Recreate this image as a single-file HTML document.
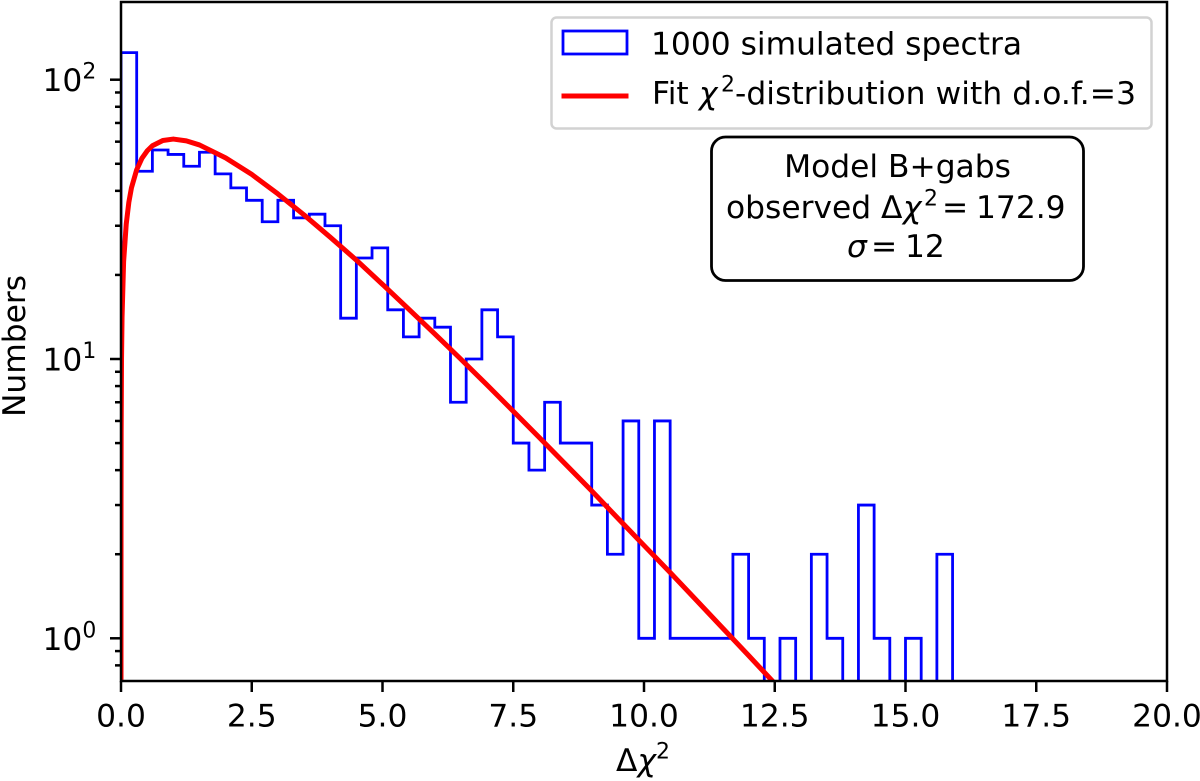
<!DOCTYPE html>
<html>
<head>
<meta charset="utf-8">
<title>Delta chi-squared histogram</title>
<style>
html,body{margin:0;padding:0;background:#fff;width:1200px;height:781px;overflow:hidden}
svg{display:block}
text{font-family:"DejaVu Sans","Liberation Sans",sans-serif;fill:#000}
.i{font-style:italic}
</style>
</head>
<body>
<svg id="chart" width="1200" height="781" viewBox="0 0 1200 781" xmlns="http://www.w3.org/2000/svg">
  <defs><clipPath id="plot-clip"><rect x="121" y="2" width="1046" height="679"/></clipPath></defs>
  <rect x="0" y="0" width="1200" height="781" fill="#fff"/>
  <g id="marks" clip-path="url(#plot-clip)"></g>
  <g id="ticks"></g>
  <rect x="121" y="2" width="1046" height="679" fill="none" stroke="#000" stroke-width="2.5"/>

  <g>
    <rect x="551.5" y="17.5" width="600" height="111" rx="5" fill="#fff" fill-opacity=".8" stroke="#d2d2d2" stroke-width="2.5"/>
    <rect x="563" y="31" width="64" height="23" fill="none" stroke="#0000ff" stroke-width="2.8"/>
    <text x="651" y="54.3" font-size="31.3">1000 simulated spectra</text>
    <line x1="561.5" y1="96" x2="628.5" y2="96" stroke="#ff0000" stroke-width="5"/>
    <text x="652" y="104" font-size="31.3">Fit <tspan class="i" x="699">χ</tspan><tspan font-size="21.9" x="721" dy="-12.5">2</tspan><tspan x="735" dy="12.5" textLength="401" lengthAdjust="spacing">-distribution with d.o.f.=3</tspan></text>
  </g>

  <g>
    <rect x="711.5" y="137" width="372" height="143.5" rx="14" fill="#fff" stroke="#000" stroke-width="2.8"/>
    <text x="897.5" y="177" font-size="31.3" text-anchor="middle">Model B+gabs</text>
    <text x="726" y="218" font-size="31.3">observed <tspan x="881">Δ</tspan><tspan class="i" x="903">χ</tspan><tspan font-size="21.9" x="924" dy="-12.5">2</tspan><tspan x="942" dy="12.5">=</tspan><tspan x="976">172.9</tspan></text>
    <text x="847" y="257" font-size="31.3"><tspan class="i">σ</tspan><tspan x="871">=</tspan><tspan x="905">12</tspan></text>
  </g>

  <text x="643" y="771" font-size="31.3" text-anchor="middle">Δ<tspan class="i">χ</tspan><tspan font-size="21.9" dy="-12.5">2</tspan></text>
  <text transform="translate(25,346) rotate(-90)" font-size="31.3" text-anchor="middle">Numbers</text>
</svg>

<script>
// Data
const binWidth = 0.3;
const binCounts = [125,47,56,54,49,55,46,41,37,31,37,32,33,30,14,23,25,15,12,14,13,7,10,15,12,5,4,7,5,5,3,2,6,1,6,1,1,1,1,2,1,0,1,0,2,1,0,3,1,0,1,0,2];
const fitX = [0.00005,0.0002,0.001,0.003,0.01,0.02,0.05,0.1,0.15,0.2,0.3,0.4,0.5,0.6,0.8,1,1.25,1.5,2,2.5,3,3.5,4,4.5,5,5.5,6,6.5,7,7.5,8,8.5,9,9.5,10,10.5,11,11.5,12,12.5];
const fitY = [0.71,1.43,3.19,5.5,10.05,14.1,22.3,30.4,36.4,41,47.6,52.3,55.6,58,60.6,61.3,60.4,58.4,52.5,45.8,39,32.8,27.3,22.6,18.5,15.1,12.3,9.98,8.07,6.5,5.23,4.2,3.37,2.69,2.15,1.72,1.37,1.09,0.868,0.689];
const xTickValues = [0,2.5,5,7.5,10,12.5,15,17.5,20];
const xTickLabels = ['0.0','2.5','5.0','7.5','10.0','12.5','15.0','17.5','20.0'];
const yDecades = [0,1,2];
const yMinorFactors = [2,3,4,5,6,7,8,9];

// Axis functions
const xScale = v => 121 + v * 52.3;
const yScale = v => v > 0 ? Math.min(690, 638.3 - 279.3 * Math.log10(v)) : 690;

const NS = 'http://www.w3.org/2000/svg';
const marks = document.getElementById('marks');
const ticks = document.getElementById('ticks');

// Histogram outline
let histD = 'M' + xScale(0) + ' ' + yScale(0);
binCounts.forEach((c, i) => {
  histD += ' L' + xScale(i * binWidth).toFixed(2) + ' ' + yScale(c).toFixed(2);
  histD += ' L' + xScale((i + 1) * binWidth).toFixed(2) + ' ' + yScale(c).toFixed(2);
});
histD += ' L' + xScale(binCounts.length * binWidth).toFixed(2) + ' ' + yScale(0);
const hist = document.createElementNS(NS, 'path');
hist.setAttribute('d', histD);
hist.setAttribute('fill', 'none');
hist.setAttribute('stroke', '#0000ff');
hist.setAttribute('stroke-width', '2.8');
hist.setAttribute('stroke-linejoin', 'miter');


marks.appendChild(hist);

// Fitted curve
const fit = document.createElementNS(NS, 'polyline');
fit.setAttribute('points', fitX.map((x, i) => xScale(x).toFixed(2) + ',' + yScale(fitY[i]).toFixed(2)).join(' '));
fit.setAttribute('fill', 'none');
fit.setAttribute('stroke', '#ff0000');
fit.setAttribute('stroke-width', '5');
fit.setAttribute('stroke-linejoin', 'round');


marks.appendChild(fit);

function tickLine(x1, y1, x2, y2, name) {
  const l = document.createElementNS(NS, 'line');
  l.setAttribute('x1', x1);
  l.setAttribute('y1', y1);
  l.setAttribute('x2', x2);
  l.setAttribute('y2', y2);
  l.setAttribute('stroke', '#000');
  l.setAttribute('stroke-width', '2.5');
  
  
  ticks.appendChild(l);
}

// X ticks
xTickValues.forEach((v, i) => {
  const x = xScale(v);
  tickLine(x, 681, x, 692, 'x-tick');
  const t = document.createElementNS(NS, 'text');
  t.setAttribute('x', x);
  t.setAttribute('y', 726.7);
  t.setAttribute('font-size', '31.3');
  t.setAttribute('text-anchor', 'middle');
  t.textContent = xTickLabels[i];
  
  
  ticks.appendChild(t);
});

// Y ticks
yDecades.forEach(d => {
  const base = Math.pow(10, d);
  const y = yScale(base);
  tickLine(110, y, 121, y, 'y-major-tick');
  const t = document.createElementNS(NS, 'text');
  t.setAttribute('x', 42.5);
  t.setAttribute('y', y + 11.5);
  t.setAttribute('font-size', '31.3');
  t.textContent = '10';
  
  
  const s = document.createElementNS(NS, 'tspan');
  s.setAttribute('font-size', '21.9');
  s.setAttribute('dy', '-12.5');
  s.textContent = String(d);
  t.appendChild(s);
  ticks.appendChild(t);
});
[-1,0,1,2].forEach(d => {
  yMinorFactors.forEach(f => {
    const y = yScale(f * Math.pow(10, d));
    if (y >= 2 && y <= 681.5) tickLine(115, y, 121, y, 'y-minor-tick');
  });
});
</script>
</body>
</html>
